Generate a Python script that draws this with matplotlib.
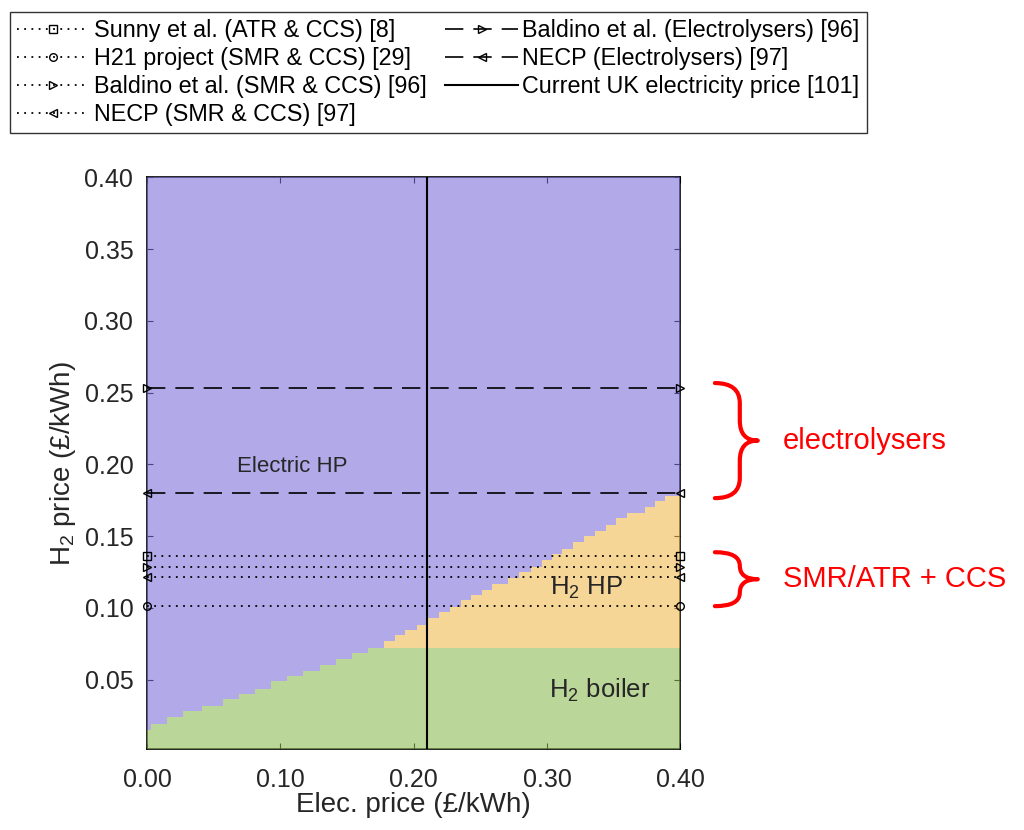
"""
Heating technology map: H2 price vs electricity price
"""
import matplotlib
matplotlib.use("Agg")
import matplotlib.pyplot as plt
from matplotlib.path import Path
from matplotlib.patches import PathPatch

plt.rcParams["font.family"] = ["Liberation Sans", "DejaVu Sans"]
plt.rcParams["mathtext.fontset"] = "custom"
plt.rcParams["mathtext.rm"] = "Liberation Sans"
plt.rcParams["mathtext.it"] = "Liberation Sans:italic"

# Staircase boundaries (left edge of each step, level of step)
boiler_x = [0.000, 0.003, 0.015, 0.027, 0.041, 0.057, 0.069, 0.081, 0.093,
            0.105, 0.117, 0.130, 0.142, 0.154, 0.166]
boiler_top = [0.0152, 0.0189, 0.0240, 0.0278, 0.0317, 0.0363, 0.0400, 0.0438,
              0.0489, 0.0526, 0.0561, 0.0600, 0.0647, 0.0684, 0.0721]

h2hp_x = [0.1775, 0.1858, 0.1938, 0.2028, 0.2108, 0.2188, 0.2270, 0.2351,
          0.2428, 0.2509, 0.2591, 0.2708, 0.2789, 0.2879, 0.2959, 0.3038,
          0.3116, 0.3196, 0.3278, 0.3359, 0.3441, 0.3521, 0.3601, 0.3734,
          0.3814, 0.3889]
h2hp_top = [0.0770, 0.0810, 0.0844, 0.0883, 0.0932, 0.0968, 0.1007, 0.1054,
            0.1093, 0.1128, 0.1167, 0.1209, 0.1247, 0.1286, 0.1333, 0.1377,
            0.1409, 0.1460, 0.1500, 0.1537, 0.1577, 0.1623, 0.1658, 0.1700,
            0.1746, 0.1781]

# Reference H2 prices
smr_labels = ["Sunny et al. (ATR & CCS) [8]", "H21 project (SMR & CCS) [29]",
              "Baldino et al. (SMR & CCS) [96]", "NECP (SMR & CCS) [97]"]
smr_prices = [0.136, 0.1012, 0.1286, 0.1212]
smr_markers = ["s", "o", ">", "<"]

elec_labels = ["Baldino et al. (Electrolysers) [96]", "NECP (Electrolysers) [97]"]
elec_prices = [0.2535, 0.1802]
elec_markers = [">", "<"]

uk_label = "Current UK electricity price [101]"
uk_price = 0.21

x_max = 0.40
y_min, y_max = 0.0013, 0.40

# Colours (drawn semi-transparent, like the original)
purple = "#7D70D9"
yellow = "#F0BB52"
green = "#8EBB55"
alpha = 0.6
txt = "#262626"

fig = plt.figure(figsize=(10.24, 8.3), dpi=100)
ax = fig.add_axes([0.1438, 0.0970, 0.5205, 0.6892])

# regions
gx = boiler_x + [x_max]
gy = boiler_top + [boiler_top[-1]]
ax.fill_between(gx, y_min, gy, step="post", color=green, alpha=alpha,
                lw=0, antialiased=False, zorder=3)

hx = h2hp_x + [x_max]
hy = h2hp_top + [h2hp_top[-1]]
ax.fill_between(hx, boiler_top[-1], hy, step="post", color=yellow, alpha=alpha,
                lw=0, antialiased=False, zorder=3)

px = boiler_x + h2hp_x + [x_max]
py = boiler_top + h2hp_top + [h2hp_top[-1]]
ax.fill_between(px, py, y_max, step="post", color=purple, alpha=alpha,
                lw=0, antialiased=False, zorder=3)

# price lines
handles = []
for lab, p, m in zip(smr_labels, smr_prices, smr_markers):
    h, = ax.plot([0, x_max], [p, p], color="black", lw=1.3, dashes=(1, 3),
                 marker=m, ms=5.5, mfc="none", mec="black", mew=1.0,
                 clip_on=False, zorder=5, label=lab)
    handles.append(h)
for lab, p, m in zip(elec_labels, elec_prices, elec_markers):
    h, = ax.plot([0, x_max], [p, p], color="black", lw=1.2, dashes=(11, 6),
                 marker=m, ms=5.5, mfc="none", mec="black", mew=1.0,
                 clip_on=False, zorder=5, label=lab)
    handles.append(h)
h = ax.axvline(uk_price, color="black", lw=1.5, zorder=5, label=uk_label)
handles.append(h)

# region names
ax.text(0.1086, 0.1988, "Electric HP", ha="center", va="center",
        fontsize=16, color=txt, zorder=6)
ax.text(0.3295, 0.1137, "H$_2$ HP", ha="center", va="center",
        fontsize=18.5, color=txt, zorder=6)
ax.text(0.3397, 0.0427, "H$_2$ boiler", ha="center", va="center",
        fontsize=18.5, color=txt, zorder=6)

ax.set_xlim(0, x_max)
ax.set_ylim(y_min, y_max)
ax.set_xticks([0, 0.1, 0.2, 0.3, 0.4])
ax.set_xticklabels(["0.00", "0.10", "0.20", "0.30", "0.40"])
ax.set_yticks([0.05, 0.10, 0.15, 0.20, 0.25, 0.30, 0.35, 0.40])
ax.set_yticklabels([f"{v:.2f}" for v in ax.get_yticks()])
ax.tick_params(direction="in", top=True, right=True, length=4, width=0.8,
               labelsize=18, labelcolor=txt)
ax.tick_params(axis="x", pad=13)
ax.tick_params(axis="y", pad=10)
for s in ax.spines.values():
    s.set_linewidth(1.2)
    s.set_color("black")

ax.set_xlabel("Elec. price (£/kWh)", fontsize=20, color=txt, labelpad=0)
ax.set_ylabel("H$_2$ price (£/kWh)", fontsize=20, color=txt, labelpad=5)

# curly braces for the two groups of H2 production routes
def brace(y_lo, y_hi, label):
    x0, xs, xt = 0.426, 0.4447, 0.4582
    r = min(0.014, (y_hi - y_lo) / 4)
    ym = (y_lo + y_hi) / 2
    verts = [(x0, y_hi), (xs, y_hi), (xs, y_hi - r),
             (xs, ym + r), (xs, ym), (xt, ym),
             (xs, ym), (xs, ym - r),
             (xs, y_lo + r), (xs, y_lo), (x0, y_lo)]
    codes = [Path.MOVETO, Path.CURVE3, Path.CURVE3,
             Path.LINETO, Path.CURVE3, Path.CURVE3,
             Path.CURVE3, Path.CURVE3,
             Path.LINETO, Path.CURVE3, Path.CURVE3]
    ax.add_patch(PathPatch(Path(verts, codes), fc="none", ec="red", lw=3,
                           clip_on=False, capstyle="round", joinstyle="round"))
    ax.text(0.477, ym, label, color="red", fontsize=21, ha="left",
            va="center", clip_on=False)

brace(0.1765, 0.2567, "electrolysers")
brace(0.1012, 0.1388, "SMR/ATR + CCS")

leg = fig.legend(handles=handles, loc="upper left",
                 bbox_to_anchor=(0.0098, 0.9855), borderaxespad=0,
                 ncol=2, fontsize=16.8,
                 numpoints=1, handlelength=3.1, handletextpad=0.2,
                 columnspacing=0.8, borderpad=0.3, labelspacing=0.22,
                 fancybox=False, framealpha=1, edgecolor="#333333")
leg.get_frame().set_linewidth(1.0)

fig.savefig("out.png", dpi=100)
